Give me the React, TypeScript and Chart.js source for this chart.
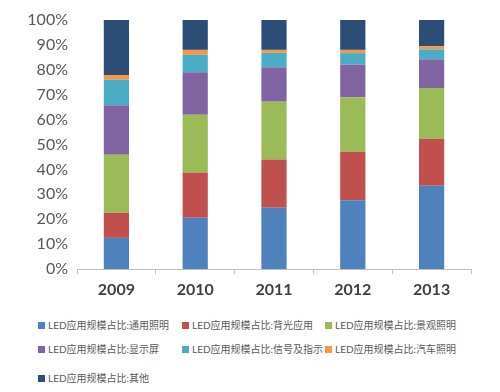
import React, { useEffect, useRef } from "react";
import { Chart, registerables } from "chart.js";

Chart.register(...registerables);

const years = ["2009", "2010", "2011", "2012", "2013"];
const general = [12.5, 20.6, 24.6, 27.6, 33.4];
const backlight = [10.1, 18.2, 19.4, 19.5, 18.8];
const landscape = [23.3, 23.1, 23.2, 21.9, 20.5];
const display = [19.9, 17.1, 13.8, 13.1, 11.5];
const signal = [10.2, 7.0, 5.8, 4.6, 4.0];
const automotive = [1.9, 2.0, 1.2, 1.3, 1.3];
const others = [22.1, 12.0, 12.0, 12.0, 10.5];
const yTicks = [0, 10, 20, 30, 40, 50, 60, 70, 80, 90, 100];

const seriesNames = [
  "LED应用规模占比:通用照明",
  "LED应用规模占比:背光应用",
  "LED应用规模占比:景观照明",
  "LED应用规模占比:显示屏",
  "LED应用规模占比:信号及指示",
  "LED应用规模占比:汽车照明",
  "LED应用规模占比:其他",
];
const seriesData = [general, backlight, landscape, display, signal, automotive, others];
const colors = ["#4F81BD", "#C0504D", "#9BBB59", "#8064A2", "#4BACC6", "#F79646", "#2C4D75"];

export default function App() {
  const ref = useRef<HTMLCanvasElement>(null);
  useEffect(() => {
    if (!ref.current) return;
    const chart = new Chart(ref.current, {
      type: "bar",
      data: {
        labels: years,
        datasets: seriesNames.map((name, i) => ({
          label: name,
          data: seriesData[i],
          backgroundColor: colors[i],
          borderWidth: 0,
          categoryPercentage: 1,
          barPercentage: 0.32,
        })),
      },
      options: {
        animation: false,
        responsive: false,
        maintainAspectRatio: false,
        layout: { padding: { top: 20, right: 29, left: 0, bottom: 0 } },
        plugins: { legend: { display: false }, tooltip: { enabled: false } },
        scales: {
          x: {
            stacked: true,
            grid: {
              display: true,
              drawOnChartArea: false,
              drawTicks: true,
              tickLength: 5,
              color: "#BFBFBF",
              offset: true,
            },
            border: { display: true, color: "#BFBFBF" },
            ticks: {
              color: "#404040",
              padding: 6,
              font: { family: "Lato, 'Open Sans', sans-serif", size: 16, weight: "bold" },
            },
            afterFit: (s: any) => {
              s.height = 41;
            },
          },
          y: {
            stacked: true,
            min: 0,
            max: 100,
            grid: { display: false, drawTicks: false },
            border: { display: false },
            afterBuildTicks: (s: any) => {
              s.ticks = yTicks.map((v) => ({ value: v }));
            },
            ticks: {
              color: "#595959",
              padding: 9,
              font: { family: "Lato, 'Open Sans', sans-serif", size: 16 },
              callback: (v: any) => v + "%",
            },
            afterFit: (s: any) => {
              s.width = 77;
            },
          },
        },
      },
    });
    return () => chart.destroy();
  }, []);

  const legendTops = [318, 342, 371];
  const legendLefts = [38, 182, 325];

  return (
    <div style={{ position: "absolute", left: 0, top: 0, width: 500, height: 392, background: "#fff" }}>
      <canvas ref={ref} width={500} height={310} style={{ position: "absolute", left: 0, top: 0 }} />
      {seriesNames.map((name, i) => (
        <div
          key={name}
          style={{
            position: "absolute",
            left: legendLefts[i % 3],
            top: legendTops[Math.floor(i / 3)],
            display: "flex",
            alignItems: "center",
            fontFamily: "Lato, 'Noto Sans CJK SC', sans-serif",
            fontSize: 10,
            color: "#595959",
            whiteSpace: "nowrap",
            lineHeight: "14px",
          }}
        >
          <span style={{ display: "inline-block", width: 7, height: 7, background: colors[i], marginRight: 3 }} />
          {name}
        </div>
      ))}
    </div>
  );
}
